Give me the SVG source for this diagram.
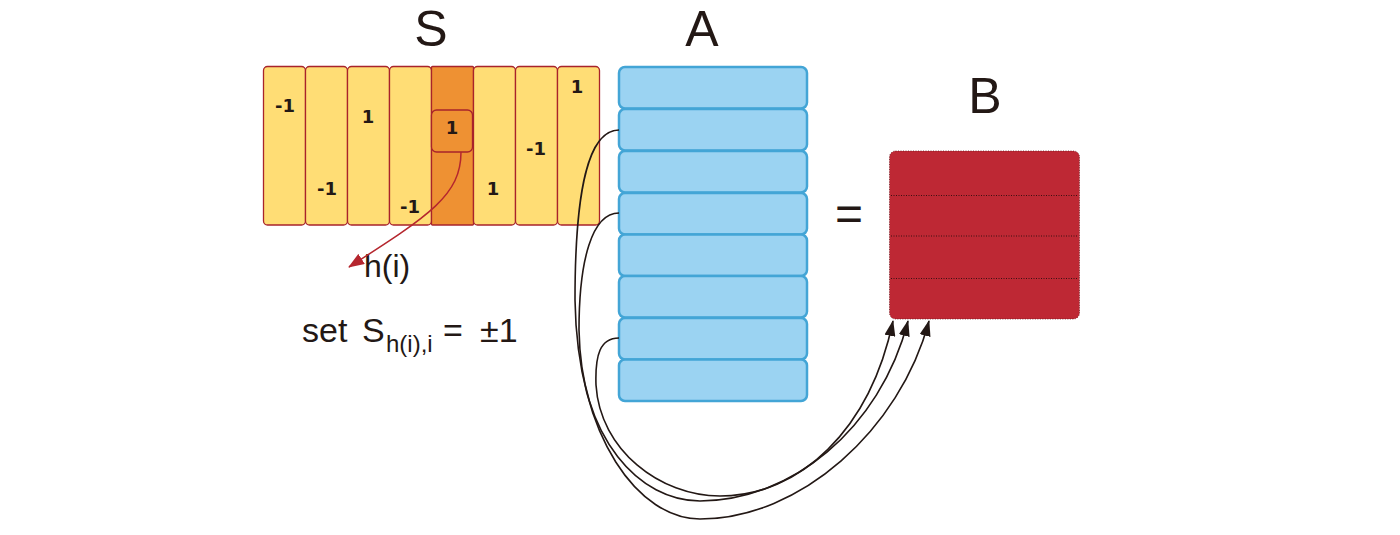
<svg xmlns="http://www.w3.org/2000/svg" width="1400" height="535" viewBox="0 0 1400 535">
<style>
.title{font-family:"Liberation Sans",Arial,sans-serif;font-size:50px;fill:#231815}
.lbl{font-family:"Liberation Sans",Arial,sans-serif;fill:#231815}
.num{font-family:"DejaVu Sans",sans-serif;font-weight:bold;font-size:18px;fill:#231815;text-anchor:middle}
.scol{fill:#ffdd75;stroke:#a8232b;stroke-width:1.3}
.scolh{fill:#ee9133;stroke:#a8232b;stroke-width:1.3}
.arow{fill:#9bd3f2;stroke:#43a5d6;stroke-width:2.5}
.conn{fill:none;stroke:#231815;stroke-width:1.6}
</style>
<defs>
<marker id="ah" viewBox="0 0 16 11" refX="15" refY="5.5" markerWidth="16" markerHeight="11" markerUnits="userSpaceOnUse" orient="auto">
<path d="M0,0 L16,5.5 L0,11 Z" fill="#231815"/>
</marker>
<marker id="ahr" viewBox="0 0 16 12" refX="15" refY="6" markerWidth="16" markerHeight="12" markerUnits="userSpaceOnUse" orient="auto">
<path d="M0,0 L16,6 L0,12 Z" fill="#b5262e"/>
</marker>
</defs>
<text class="title" x="431" y="46" text-anchor="middle">S</text>
<text class="title" x="702" y="46" text-anchor="middle">A</text>
<text class="title" x="985" y="113" text-anchor="middle">B</text>
<g id="S">
<rect class="scol" x="263.5" y="66.5" width="42" height="158.5" rx="4"/>
<rect class="scol" x="305.5" y="66.5" width="42" height="158.5" rx="4"/>
<rect class="scol" x="347.5" y="66.5" width="42" height="158.5" rx="4"/>
<rect class="scol" x="389.5" y="66.5" width="42" height="158.5" rx="4"/>
<rect class="scolh" x="431.5" y="66.5" width="42" height="158.5" rx="1"/>
<rect class="scol" x="473.5" y="66.5" width="42" height="158.5" rx="4"/>
<rect class="scol" x="515.5" y="66.5" width="42" height="158.5" rx="4"/>
<rect class="scol" x="557.5" y="66.5" width="42" height="158.5" rx="4"/>
<rect class="scolh" x="431.5" y="110" width="41" height="42" rx="5"/>
<text class="num" x="285" y="112">-1</text>
<text class="num" x="327" y="195">-1</text>
<text class="num" x="368" y="123">1</text>
<text class="num" x="410" y="213">-1</text>
<text class="num" x="452" y="134">1</text>
<text class="num" x="493" y="195">1</text>
<text class="num" x="536" y="155">-1</text>
<text class="num" x="577" y="93">1</text>
</g>
<g id="A">
<rect class="arow" x="619" y="67" width="188" height="41.5" rx="6"/>
<rect class="arow" x="619" y="109" width="188" height="41.5" rx="6"/>
<rect class="arow" x="619" y="151" width="188" height="41.5" rx="6"/>
<rect class="arow" x="619" y="193" width="188" height="41.5" rx="6"/>
<rect class="arow" x="619" y="234.5" width="188" height="41.5" rx="6"/>
<rect class="arow" x="619" y="276" width="188" height="41.5" rx="6"/>
<rect class="arow" x="619" y="318" width="188" height="41.5" rx="6"/>
<rect class="arow" x="619" y="359.5" width="188" height="41.5" rx="6"/>
</g>
<g id="eq">
<text class="lbl" x="849" y="230" font-size="48" text-anchor="middle">=</text>
</g>
<g id="B">
<rect x="889.5" y="151" width="190" height="168" rx="6" fill="#be2834" stroke="#6a1a1f" stroke-width="0.8" stroke-dasharray="1,1.5"/>
<line x1="891" y1="195.5" x2="1078" y2="195.5" stroke="#3a1012" stroke-width="1" stroke-dasharray="1,1.5"/>
<line x1="891" y1="236" x2="1078" y2="236" stroke="#3a1012" stroke-width="1" stroke-dasharray="1,1.5"/>
<line x1="891" y1="278.5" x2="1078" y2="278.5" stroke="#3a1012" stroke-width="1" stroke-dasharray="1,1.5"/>
</g>
<g id="hlabel">
<text class="lbl" x="364" y="277" font-size="32">h(i)</text>
</g>
<g id="setlabel">
<text class="lbl" font-size="34" y="342"><tspan x="302">set</tspan><tspan x="362">S</tspan><tspan x="386" y="352" font-size="24">h(i),i</tspan><tspan x="443" y="342">=</tspan><tspan x="480">±1</tspan></text>
</g>
<g id="connectors">
<path d="M461 152 C461 195 430 215 349 267" fill="none" stroke="#b5262e" stroke-width="1.5" marker-end="url(#ahr)"/>
<path class="conn" d="M619 130 C588 130 575 190 575 300 C577 440 640 519 700 519 C800 519 900 430 929 321" marker-end="url(#ah)"/>
<path class="conn" d="M619 213 C592 213 579 260 579 330 C581 440 640 501 700 501 C790 501 880 430 908 321" marker-end="url(#ah)"/>
<path class="conn" d="M619 338 C600 338 595 355 596 385 C600 450 660 496 720 496 C800 496 870 430 893 321" marker-end="url(#ah)"/>
</g>
</svg>
